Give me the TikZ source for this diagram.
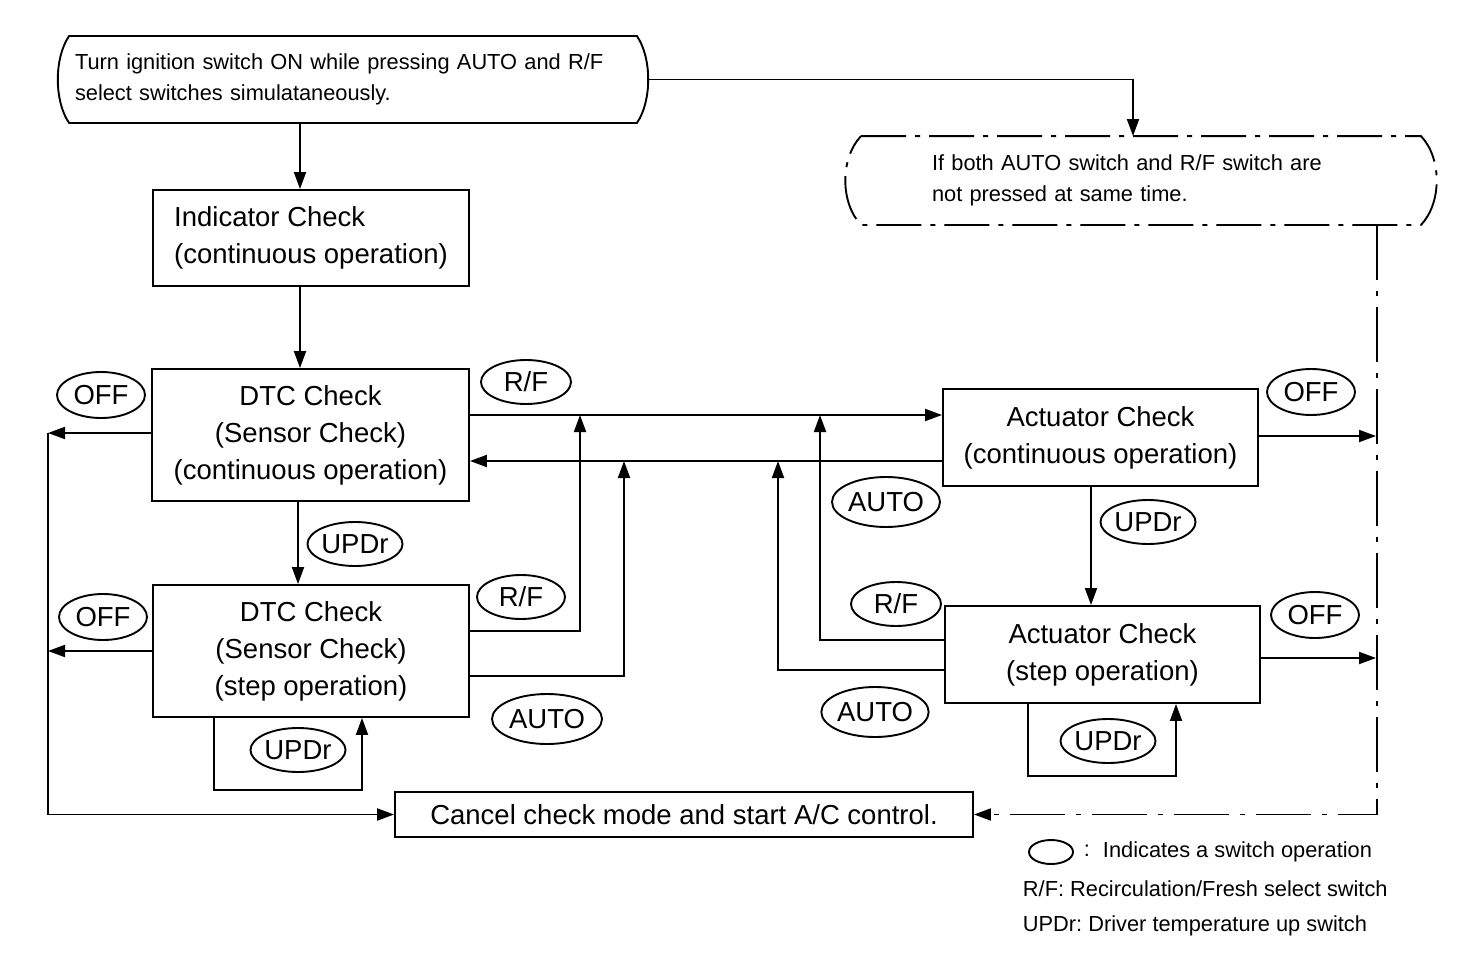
\documentclass[tikz,border=0pt]{standalone}
\usepackage{fontspec}
\setmainfont{Liberation Sans}
\usetikzlibrary{arrows.meta,shapes.geometric,calc}
\frenchspacing
\begin{document}
\begin{tikzpicture}[x=1pt,y=-1pt,
  line width=1.9pt,
  arr/.style={-{Triangle[length=17pt,width=12pt]}},
  box/.style={draw, rectangle, inner sep=0pt, font=\fontsize{27.5}{37}\selectfont, align=center},
  sw/.style={draw, ellipse, inner sep=0pt, minimum width=88pt, minimum height=46pt, font=\fontsize{27.5}{30}\selectfont},
  small/.style={font=\fontsize{21.8}{31}\selectfont},
  dd/.style={dash pattern=on 45pt off 9pt on 5pt off 9pt},
  ddv/.style={dash pattern=on 55pt off 11pt on 5pt off 11pt}
]
\useasboundingbox (0,0) rectangle (1472,958);

% guide coordinates
\coordinate (gx48) at (48,0);
\coordinate (gx214) at (214,0);
\coordinate (gx298) at (298,0);
\coordinate (gx300) at (300,0);
\coordinate (gx362) at (362,0);
\coordinate (gx580) at (580,0);
\coordinate (gx624) at (624,0);
\coordinate (gx778) at (778,0);
\coordinate (gx820) at (820,0);
\coordinate (gx1028) at (1028,0);
\coordinate (gx1091) at (1091,0);
\coordinate (gx1133) at (1133,0);
\coordinate (gx1176) at (1176,0);
\coordinate (gx1377) at (1377,0);
\coordinate (gy415) at (0,415);
\coordinate (gy433) at (0,433);
\coordinate (gy461) at (0,461);
\coordinate (gy631) at (0,631);
\coordinate (gy676) at (0,676);
\coordinate (gy640) at (0,640);
\coordinate (gy670) at (0,670);
\coordinate (gy790) at (0,790);
\coordinate (gy776) at (0,776);
\coordinate (gy436) at (0,436);
\coordinate (gy658) at (0,658);

% terminators
\node[small, text width=556pt, align=left, inner xsep=15pt, inner ysep=0pt, minimum width=586pt, minimum height=85pt] (start) at (353,79.5)
  {Turn ignition switch ON while pressing AUTO and R/F\\select switches simulataneously.};
\draw ($(start.north west)+(10,0)$) -- ($(start.north east)+(-10,0)$)
  .. controls ($(start.north east)+(5,22)$) and ($(start.south east)+(5,-22)$) .. ($(start.south east)+(-10,0)$)
  -- ($(start.south west)+(10,0)$)
  .. controls ($(start.south west)+(-5,-22)$) and ($(start.north west)+(-5,22)$) .. cycle;

\node[small, text width=418pt, align=left, inner xsep=86pt, inner ysep=0pt, minimum width=590pt, minimum height=87pt] (dterm) at (1141,180.5)
  {If both AUTO switch and R/F switch are\\not pressed at same time.};
\draw[dd] ($(dterm.north west)+(16,0)$) -- ($(dterm.north east)+(-16,0)$)
  .. controls ($(dterm.north east)+(5,22)$) and ($(dterm.south east)+(5,-22)$) .. ($(dterm.south east)+(-16,0)$)
  -- ($(dterm.south west)+(16,0)$)
  .. controls ($(dterm.south west)+(-5,-22)$) and ($(dterm.north west)+(-5,22)$) .. cycle;

% boxes
\node[box, align=left, minimum width=316pt, minimum height=96pt] (ind) at (311,238) {Indicator Check\\(continuous operation)};
\node[box, minimum width=317pt, minimum height=132pt] (dtc1) at (310.5,435) {DTC Check\\(Sensor Check)\\(continuous operation)};
\node[box, minimum width=316pt, minimum height=132pt] (dtc2) at (311,651) {DTC Check\\(Sensor Check)\\(step operation)};
\node[box, minimum width=315pt, minimum height=97pt] (act1) at (1100.5,437.5) {Actuator Check\\(continuous operation)};
\node[box, minimum width=315pt, minimum height=97pt] (act2) at (1102.5,654.5) {Actuator Check\\(step operation)};
\node[box, minimum width=578pt, minimum height=45pt] (cancel) at (684,814.5) {Cancel check mode and start A/C control.};

% switch ellipses
\node[sw] (off1) at (101,395) {OFF};
\node[sw, minimum width=90pt, minimum height=44pt] (rf1) at (526,382) {R/F};
\node[sw, minimum width=86pt, minimum height=44pt] (up1) at (355,544) {UPDr};
\node[sw] (off2) at (103,617) {OFF};
\node[sw, minimum height=44pt] (rf2) at (521,597) {R/F};
\node[sw, minimum width=110pt, minimum height=50pt] (auto1) at (547,719) {AUTO};
\node[sw, minimum width=86pt, minimum height=44pt] (up2) at (298,750) {UPDr};
\node[sw, minimum width=108pt, minimum height=50pt] (auto2) at (886,502) {AUTO};
\node[sw, minimum width=86pt, minimum height=44pt] (up3) at (1148,522) {UPDr};
\node[sw] (off3) at (1311,392) {OFF};
\node[sw, minimum width=90pt, minimum height=44pt] (rf3) at (896,604) {R/F};
\node[sw, minimum width=106pt, minimum height=50pt] (auto3) at (875,712) {AUTO};
\node[sw] (off4) at (1315,615) {OFF};
\node[sw, minimum width=86pt, minimum height=44pt] (up4) at (1108,741) {UPDr};

% connectors
\draw[arr] (start.south -| gx300) -- (ind.north -| gx300);
\draw[arr] (ind.south -| gx300) -- (dtc1.north -| gx300);
\draw[arr] (start.east) -| (dterm.north -| gx1133);
\draw[ddv, arr] (dterm.south -| gx1377) |- (cancel.east);
\draw[arr] (dtc1.west |- gy433) -- (gx48 |- gy433);
\draw[arr] (dtc2.west) -- (gx48 |- dtc2.west);
\draw[arr] (gx48 |- gy433) |- (cancel.west);
\draw[arr] (dtc1.east |- gy415) -- (act1.west |- gy415);
\draw[arr] (act1.west |- gy461) -- (dtc1.east |- gy461);
\draw[arr] (dtc1.south -| gx298) -- (dtc2.north -| gx298);
\draw[arr] (dtc2.east |- gy631) -| (gx580 |- gy415);
\draw[arr] (dtc2.east |- gy676) -| (gx624 |- gy461);
\draw[arr] (dtc2.south -| gx214) |- (gx362 |- gy790) -- (dtc2.south -| gx362);
\draw[arr] (act1.east |- gy436) -- ($(gx1377 |- gy436)+(-1,0)$);
\draw[arr] (act1.south -| gx1091) -- (act2.north -| gx1091);
\draw[arr] (act2.east |- gy658) -- ($(gx1377 |- gy658)+(-1,0)$);
\draw[arr] (act2.west |- gy640) -| (gx820 |- gy415);
\draw[arr] (act2.west |- gy670) -| (gx778 |- gy461);
\draw[arr] (act2.south -| gx1028) |- (gx1176 |- gy776) -- (act2.south -| gx1176);

% legend
\node[draw, ellipse, inner sep=0pt, minimum width=44pt, minimum height=24pt] (lgE) at (1051,852) {};
\node[small, anchor=west, inner sep=0pt] (lgC) at (1083,851) {:};
\node[small, anchor=west, inner sep=0pt] (lg1) at (1102,852) {Indicates a switch operation};
\node[small, anchor=west, inner sep=0pt] (lg2) at (1022,889) {R/F: Recirculation/Fresh select switch};
\node[small, anchor=west, inner sep=0pt] (lg3) at (1022,926) {UPDr: Driver temperature up switch};
\end{tikzpicture}
\end{document}
